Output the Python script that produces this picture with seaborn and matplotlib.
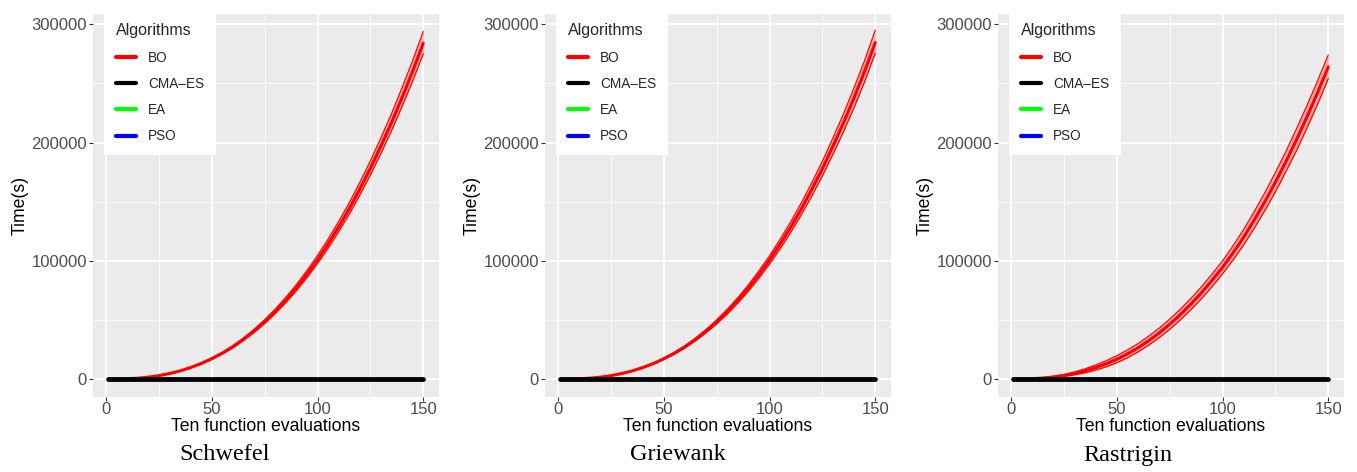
import numpy as np
import pandas as pd
import matplotlib
matplotlib.use("Agg")
import matplotlib.pyplot as plt
from matplotlib.lines import Line2D
from matplotlib.ticker import MultipleLocator
import seaborn as sns

# ---------------- data ----------------
evals = [1, 5, 10, 15, 20, 25, 30, 35, 40, 45, 50, 55, 60, 65, 70, 75,
         80, 85, 90, 95, 100, 105, 110, 115, 120, 125, 130, 135, 140, 145, 150]

functions = ["Schwefel", "Griewank", "Rastrigin"]

bo_mean = {
    "Schwefel": [0, 50, 290, 800, 1670, 2940, 4700, 6950, 9800, 13190, 17300, 21970, 27400, 33700, 40700, 48550,
                 57200, 66800, 77200, 88700, 101000, 114400, 128800, 144100, 160800, 178300, 197200, 216900, 238200, 260300, 284000],
    "Griewank": [0, 48, 280, 790, 1650, 2910, 4650, 6900, 9750, 13130, 17200, 21900, 27300, 33600, 40600, 48400,
                 57000, 66600, 77000, 88500, 100800, 114200, 128500, 143900, 160500, 178000, 197000, 216800, 238000, 260500, 284500],
    "Rastrigin": [0, 60, 300, 900, 1800, 3100, 4800, 7000, 9800, 13000, 16800, 21300, 26500, 32400, 39000, 46400,
                  54500, 63400, 73000, 83400, 94500, 106800, 120000, 134600, 150000, 166500, 184000, 202500, 222000, 242500, 264000],
}
bo_upper = {
    "Schwefel": [0, 52, 300, 830, 1730, 3040, 4860, 7190, 10140, 13650, 17900, 22740, 28360, 34880, 42120, 50250,
                 59200, 69140, 79900, 91800, 104500, 118400, 133300, 149100, 166400, 184500, 204100, 224500, 246500, 269400, 294000],
    "Griewank": [0, 50, 290, 820, 1710, 3010, 4810, 7140, 10080, 13590, 17800, 22670, 28250, 34780, 42000, 50090,
                 59000, 68930, 79700, 91600, 104300, 118200, 133000, 148900, 166100, 184200, 203900, 224400, 246400, 269600, 295000],
    "Rastrigin": [0, 90, 400, 1250, 2300, 3900, 6000, 8700, 12000, 15600, 19800, 24600, 30000, 36200, 43000, 50700,
                  59000, 68200, 78000, 88700, 100000, 112800, 126500, 141600, 157500, 174700, 192500, 211700, 231500, 252400, 274000],
}
bo_lower = {
    "Schwefel": [0, 48, 280, 775, 1620, 2850, 4550, 6730, 9490, 12770, 16750, 21270, 26520, 32620, 39400, 47000,
                 55400, 64660, 74730, 85860, 97800, 110700, 124700, 139500, 155600, 172600, 190900, 210000, 230600, 252000, 275000],
    "Griewank": [0, 46, 270, 760, 1590, 2810, 4490, 6660, 9420, 12680, 16600, 21150, 26350, 32440, 39200, 46730,
                 55000, 64300, 74300, 85400, 97300, 110200, 124000, 138900, 154900, 171800, 190100, 209200, 229700, 251500, 275500],
    "Rastrigin": [0, 30, 200, 600, 1300, 2300, 3600, 5300, 7600, 10400, 13800, 18000, 23000, 28600, 35000, 42100,
                  50000, 58600, 68000, 78100, 89000, 100800, 113500, 127600, 142500, 158300, 175500, 193300, 212500, 232600, 254000],
}
cmaes_time = [0, 0, 0, 0, 0, 0, 0, 0, 0, 0, 0, 0, 0, 0, 0, 0, 0, 0, 0, 0, 0, 0, 0, 0, 0, 0, 0, 0, 0, 0, 0]
ea_time = [0, 0, 0, 0, 0, 0, 0, 0, 0, 0, 0, 0, 0, 0, 0, 0, 0, 0, 0, 0, 0, 0, 0, 0, 0, 0, 0, 0, 0, 0, 0]
pso_time = [0, 0, 0, 0, 0, 0, 0, 0, 0, 0, 0, 0, 0, 0, 0, 0, 0, 0, 0, 0, 0, 0, 0, 0, 0, 0, 0, 0, 0, 0, 0]

algorithms = ["BO", "CMA\u2013ES", "EA", "PSO"]
colors = {"BO": "#FF0000", "CMA\u2013ES": "#000000", "EA": "#00FF00", "PSO": "#0000FF"}

# ---------------- style ----------------
sns.set_theme(style="darkgrid", rc={
    "axes.facecolor": "#EBEBEB",
    "grid.color": "white",
    "axes.edgecolor": "#EBEBEB",
})
plt.rcParams["font.family"] = ["Liberation Sans", "DejaVu Sans"]

W, H = 1357, 472
fig = plt.figure(figsize=(W / 100, H / 100), dpi=100)

panel_left = [92.5, 544.5, 997.5]
panel_w = 346.5
top_px, bot_px = 14, 396.5
title_x = [225, 678, 1128]

for i, fn in enumerate(functions):
    ax = fig.add_axes([panel_left[i] / W, (H - bot_px) / H, panel_w / W, (bot_px - top_px) / H])
    ax.set_facecolor("#EBEBEB")
    ax.xaxis.set_major_locator(MultipleLocator(50))
    ax.xaxis.set_minor_locator(MultipleLocator(25))
    ax.yaxis.set_major_locator(MultipleLocator(100000))
    ax.yaxis.set_minor_locator(MultipleLocator(50000))
    ax.grid(which="major", color="white", linewidth=1.3)
    ax.grid(which="minor", color="white", linewidth=0.6)
    ax.set_axisbelow(True)

    # BO runs band
    ax.fill_between(evals, bo_lower[fn], bo_upper[fn], color="#FF8080", alpha=0.6, linewidth=0, zorder=2)
    sns.lineplot(x=evals, y=bo_upper[fn], ax=ax, color="#FF0000", linewidth=0.9, zorder=3)
    sns.lineplot(x=evals, y=bo_lower[fn], ax=ax, color="#FF0000", linewidth=0.9, zorder=3)
    sns.lineplot(x=evals, y=bo_mean[fn], ax=ax, color="#FF0000", linewidth=2.2, zorder=4)

    sns.lineplot(x=evals, y=ea_time, ax=ax, color=colors["EA"], linewidth=2.5, zorder=4)
    sns.lineplot(x=evals, y=pso_time, ax=ax, color=colors["PSO"], linewidth=2.5, zorder=4)
    sns.lineplot(x=evals, y=cmaes_time, ax=ax, color=colors["CMA\u2013ES"], linewidth=3.4, zorder=5)

    ax.set_xlim(-6.45, 157.45)
    ax.set_ylim(-14700, 308700)
    ax.set_xticks([0, 50, 100, 150])
    ax.set_yticks([0, 100000, 200000, 300000])
    ax.set_yticklabels(["0", "100000", "200000", "300000"])
    ax.tick_params(axis="both", which="major", length=3, width=0.8, color="#333333",
                   labelsize=12, labelcolor="#4D4D4D", pad=1, left=True, bottom=True)
    ax.tick_params(which="minor", length=0)
    for s in ax.spines.values():
        s.set_visible(False)

    ax.set_xlabel("Ten function evaluations", fontsize=12.7, color="black", labelpad=1)
    ax.set_ylabel("Time(s)", fontsize=12.7, color="black", labelpad=2)

    handles = [Line2D([0], [0], color=colors[a], linewidth=3) for a in algorithms]
    leg = ax.legend(handles, algorithms, title="Algorithms", loc="upper left",
                    bbox_to_anchor=(0.033, 1.006), borderaxespad=0, frameon=True, fancybox=False,
                    facecolor="white", edgecolor="white", framealpha=1,
                    fontsize=9.8, title_fontsize=11.5, handlelength=1.5,
                    handletextpad=0.9, labelspacing=0.9, borderpad=0.85,
                    alignment="left")
    leg.get_frame().set_linewidth(0)

    fig.text(title_x[i] / W, 1 - 455 / H, fn, ha="center", va="center",
             fontsize=17.5, family="Liberation Serif", color="black")

fig.savefig("out.png", dpi=100)
